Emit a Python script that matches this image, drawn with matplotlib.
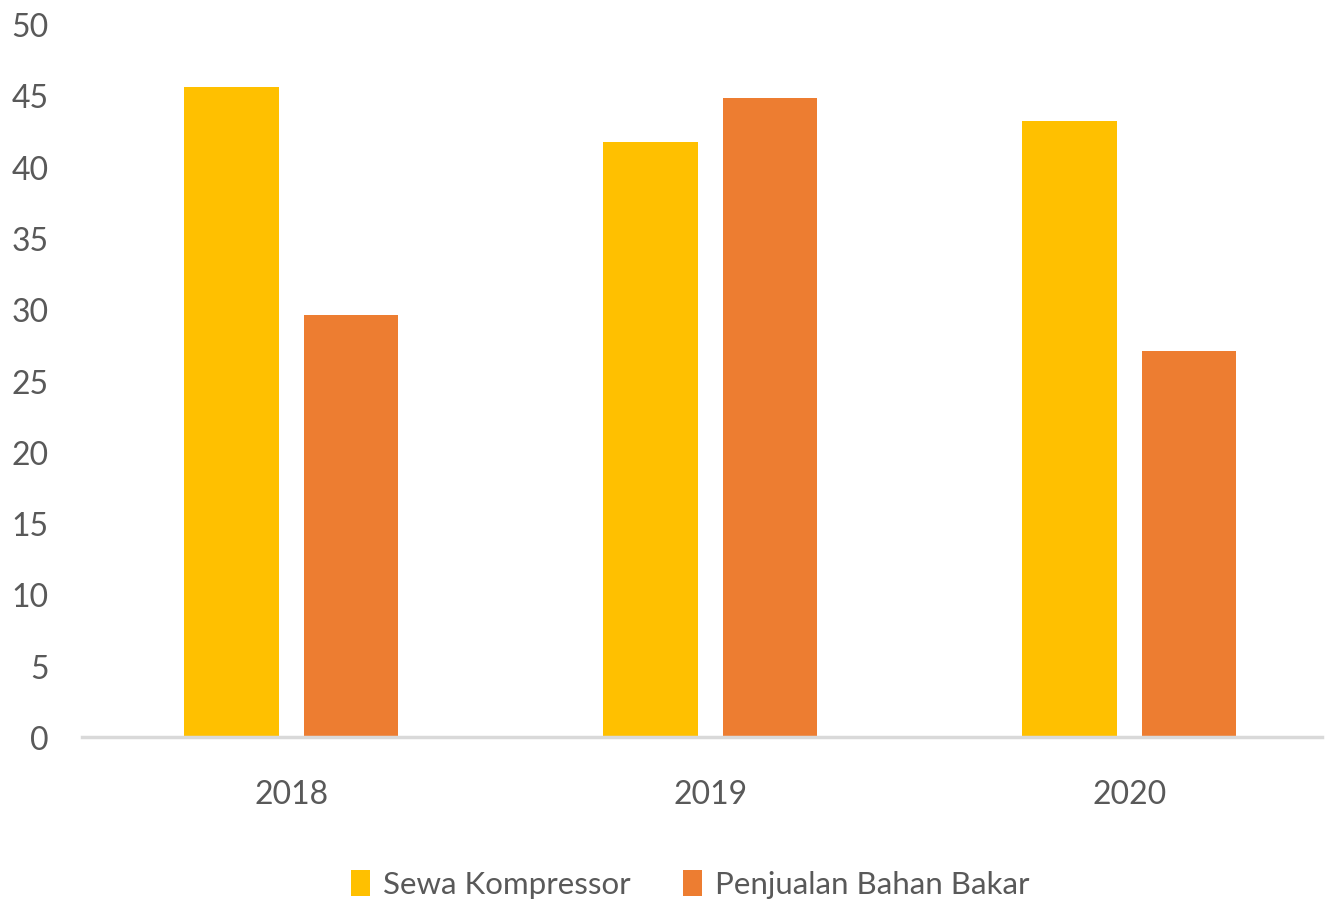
import matplotlib.pyplot as plt
import numpy as np

# data
years = ["2018", "2019", "2020"]
sewa_kompressor = [45.6, 41.7, 43.2]
penjualan_bbm = [29.6, 44.8, 27.1]
series_names = ["Sewa Kompressor", "Penjualan Bahan Bakar"]

yellow = "#FFC000"
orange = "#ED7D31"
text_grey = "#595959"

plt.rcParams["font.family"] = ["Lato", "DejaVu Sans"]

fig = plt.figure(figsize=(13.25, 9.03), dpi=100)
ax = fig.add_axes([82 / 1325, 165 / 903, 1240 / 1325, 713 / 903])

x = np.arange(len(years))
w = 0.225
off = 0.143
ax.bar(x - off, sewa_kompressor, w, color=yellow, label=series_names[0])
ax.bar(x + off, penjualan_bbm, w, color=orange, label=series_names[1])

ax.set_xlim(-0.5, 2.46)
ax.set_ylim(0, 50)
ax.set_yticks(np.arange(0, 51, 5))
ax.set_xticks(x)
ax.set_xticklabels(years)

for s in ["top", "right", "left"]:
    ax.spines[s].set_visible(False)
ax.spines["bottom"].set_color("#D9D9D9")
ax.spines["bottom"].set_linewidth(2.5)

ax.tick_params(axis="y", length=0, pad=24, labelsize=23, labelcolor=text_grey)
ax.tick_params(axis="x", length=0, pad=30, labelsize=23, labelcolor=text_grey)

fig.legend(loc="center", bbox_to_anchor=(0.521, 0.02), ncol=2, frameon=False,
           fontsize=22.5, labelcolor=text_grey, handlelength=0.6, handleheight=0.9,
           handletextpad=0.4, columnspacing=1.7)

fig.savefig("out.png", dpi=100)
